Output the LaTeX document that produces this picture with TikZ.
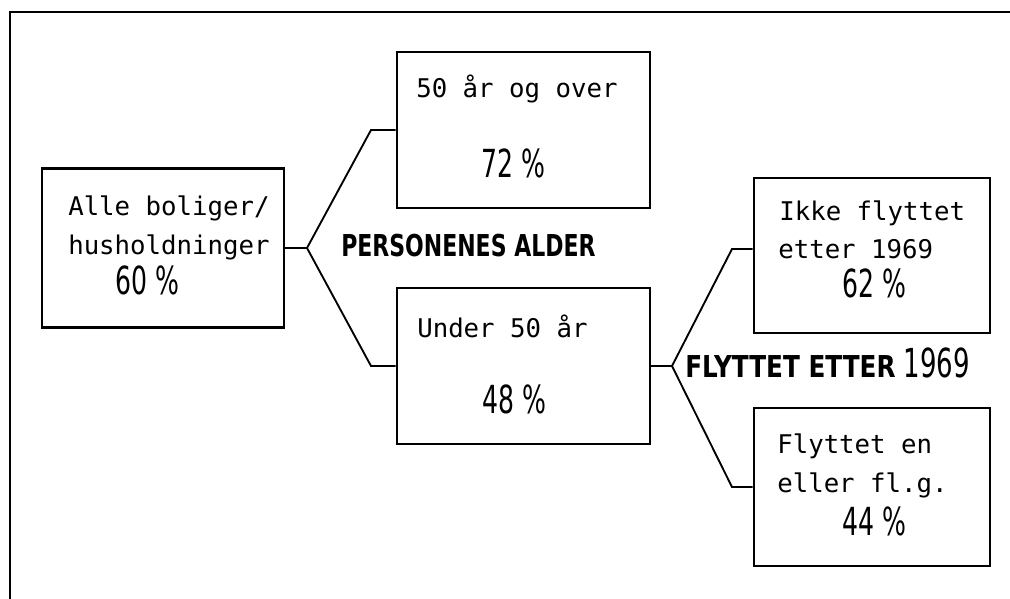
\documentclass[tikz,border=0pt]{standalone}
\usepackage{fontspec}
\newfontfamily\boxfont{DejaVu Sans Mono}
\newfontfamily\pctfont[FakeStretch=0.65]{DejaVu Sans}
\newfontfamily\labelfont[FakeStretch=0.73]{DejaVu Sans}
\newfontfamily\labelwide[FakeStretch=0.82]{DejaVu Sans}

\begin{document}
\begin{tikzpicture}[x=0.75pt,y=0.75pt,yscale=-1,xscale=1,
    box/.style={draw,line width=2pt,inner sep=0pt},
    link/.style={line width=1.4pt},
    frame/.style={line width=2.2pt},
    txt/.style={anchor=base west,inner sep=0pt,font=\boxfont\fontsize{19.3}{23}\selectfont},
    pct/.style={anchor=base west,inner sep=0pt,font=\pctfont\fontsize{29}{34}\selectfont},
    lbl/.style={anchor=base west,inner sep=0pt,font=\labelfont\bfseries\fontsize{22.6}{27}\selectfont}]
    \useasboundingbox (0,0) rectangle (1010,599);

    %Outer frame
    \draw [frame] (1010,12) -- (10,12) -- (10,599) ;

    %Shape: Rectangle [alle]
    \node [box,minimum width=181.5pt,minimum height=119.25pt] (alle) at (163,248) {};
    %Shape: Rectangle [over]
    \node [box,minimum width=189.75pt,minimum height=117pt] (over) at (523.5,130) {};
    %Shape: Rectangle [under]
    \node [box,minimum width=189.75pt,minimum height=117pt] (under) at (523.5,366) {};
    %Shape: Rectangle [ikke]
    \node [box,minimum width=177pt,minimum height=116.25pt] (ikke) at (872,255.5) {};
    %Shape: Rectangle [flytt]
    \node [box,minimum width=177pt,minimum height=118.5pt] (flytt) at (872,487) {};

    %Branch points
    \coordinate (j1) at (307,248);
    \coordinate (u1) at (371,130);
    \coordinate (d1) at (371,366);
    \coordinate (j2) at (672,366);
    \coordinate (u2) at (732,249);
    \coordinate (d2) at (732,487);

    %Straight Lines
    \draw [link] (alle.east) -- (j1) ;
    \draw [link] (j1) -- (u1) -- (over.west) ;
    \draw [link] (j1) -- (d1) -- (under.west) ;
    \draw [link] (under.east) -- (j2) ;
    \draw [link] (j2) -- (u2) -- (u2 -| ikke.west) ;
    \draw [link] (j2) -- (d2) -- (flytt.west) ;

    % Text Node
    \node [txt] (alle1) at (68,215) {Alle boliger/};
    \node [txt] (alle2) at (68,254) {husholdninger};
    \node [pct] (alle3) at (115,294) {60 \%};
    % Text Node
    \node [txt] (over1) at (416,98) {50 år og over};
    \node [pct] (over2) at (481,178) {72 \%};
    % Text Node
    \node [txt] (under1) at (417,337) {Under 50 år};
    \node [pct] (under2) at (482,413) {48 \%};
    % Text Node
    \node [txt] (ikke1) at (779,220) {Ikke flyttet};
    \node [txt] (ikke2) at (778,258) {etter 1969};
    \node [pct] (ikke3) at (842,297) {62 \%};
    % Text Node
    \node [txt] (flytt1) at (777,453) {Flyttet en};
    \node [txt] (flytt2) at (777,492) {eller fl.g.};
    \node [pct] (flytt3) at (842,535) {44 \%};
    % Text Node
    \node [lbl] (alder) at (341,256) {PERSONENES ALDER};
    \node [lbl,font=\labelwide\bfseries\fontsize{22.6}{27}\selectfont] (flyttlbl) at (685,377) {FLYTTET ETTER\hspace{6pt}{\pctfont\mdseries\fontsize{30}{34}\selectfont 1969}};
\end{tikzpicture}
\end{document}
